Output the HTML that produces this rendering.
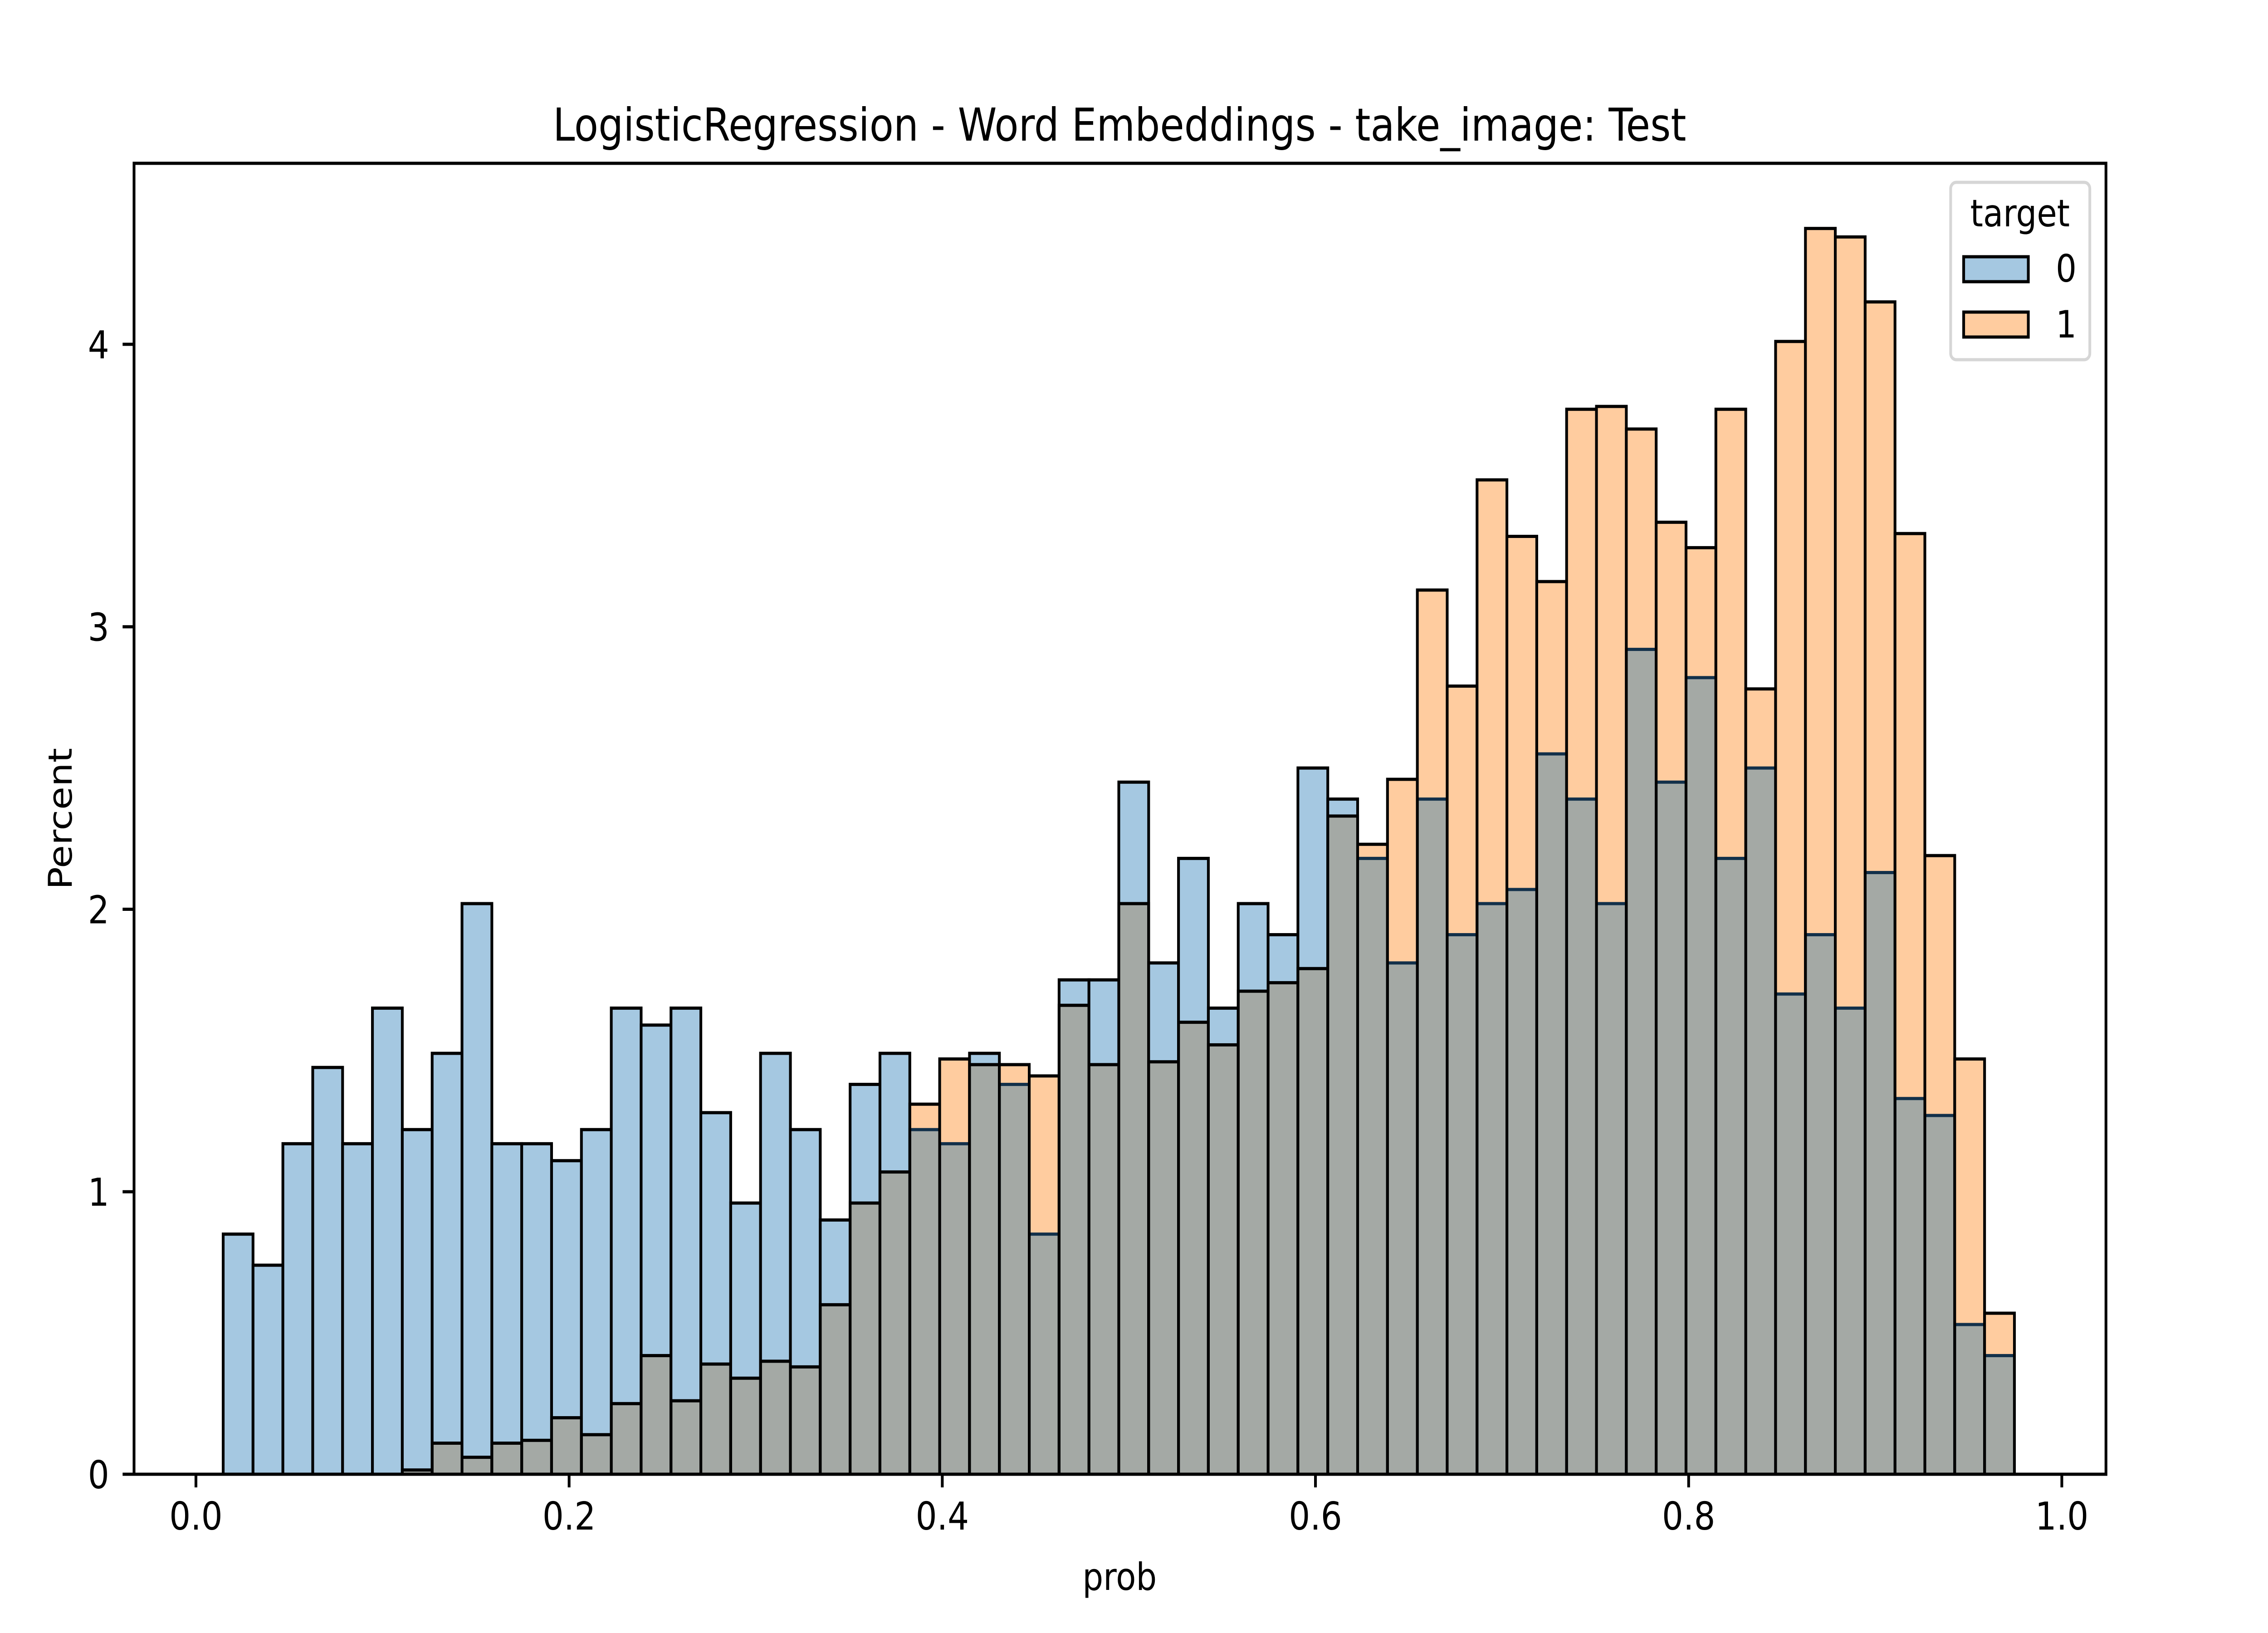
<!DOCTYPE html>
<html><head><meta charset="utf-8"><style>html,body{margin:0;padding:0;background:#fff;width:100%;height:100%;overflow:hidden}svg{display:block;width:100%;height:100%}</style></head>
<body>
<svg id="chart" xmlns="http://www.w3.org/2000/svg" viewBox="0 0 5753 3600" preserveAspectRatio="none" font-family="'DejaVu Sans','Liberation Sans',sans-serif">
<rect width="5753" height="3600" fill="#fff"/>
<g id="bars"></g>
<g id="axes"></g>
<text x="2840" y="310" font-size="100" text-anchor="middle">LogisticRegression - Word Embeddings - take_image: Test</text>
<text x="2840" y="3505" font-size="83" text-anchor="middle">prob</text>
<text transform="translate(182,1805) rotate(-90)" font-size="83" text-anchor="middle">Percent</text>
<g>
<rect x="4948" y="402" width="353" height="391" rx="14" fill="#fff" fill-opacity="0.8" stroke="#d6d6d6" stroke-width="7"/>
<text x="5124" y="499" font-size="83" text-anchor="middle">target</text>
<rect x="4981" y="566" width="164" height="55" fill="#a5c8e1" stroke="#000" stroke-width="7"/>
<text x="5241" y="621" font-size="83" text-anchor="middle">0</text>
<rect x="4981" y="688" width="164" height="55" fill="#ffcc9f" stroke="#000" stroke-width="7"/>
<text x="5241" y="744" font-size="83" text-anchor="middle">1</text>
</g>
</svg>
<script>
const binStart = 0.0146;
const binWidth = 0.016;
const target0 = [0.85,0.74,1.17,1.44,1.17,1.65,1.22,1.49,2.02,1.17,1.17,1.11,1.22,1.65,1.59,1.65,1.28,0.96,1.49,1.22,0.90,1.38,1.49,1.22,1.17,1.49,1.38,0.85,1.75,1.75,2.45,1.81,2.18,1.65,2.02,1.91,2.50,2.39,2.18,1.81,2.39,1.91,2.02,2.07,2.55,2.39,2.02,2.92,2.45,2.82,2.18,2.50,1.70,1.91,1.65,2.13,1.33,1.27,0.53,0.42];
const target1 = [0,0,0,0,0,0,0.015,0.11,0.06,0.11,0.12,0.20,0.14,0.25,0.42,0.26,0.39,0.34,0.40,0.38,0.60,0.96,1.07,1.31,1.47,1.45,1.45,1.41,1.66,1.45,2.02,1.46,1.60,1.52,1.71,1.74,1.79,2.33,2.23,2.46,3.13,2.79,3.52,3.32,3.16,3.77,3.78,3.70,3.37,3.28,3.77,2.78,4.01,4.41,4.38,4.15,3.33,2.19,1.47,0.57];
const xTicks = [0,0.2,0.4,0.6,0.8,1.0];
const xTickLabels = ["0.0","0.2","0.4","0.6","0.8","1.0"];
const yTicks = [0,1,2,3,4];
const yTickLabels = ["0","1","2","3","4"];

const NS="http://www.w3.org/2000/svg";
const X0=497, XS=4733, Y0=3250, YS=622.75;
const L=340, R=5342, T=360, B=3250;
function xs(v){return X0+XS*v;}
function ys(v){return Y0-YS*v;}
function mk(tag,attrs,parent){const e=document.createElementNS(NS,tag);for(const k in attrs)e.setAttribute(k,attrs[k]);parent.appendChild(e);return e;}
const bars=document.getElementById('bars');
const axes=document.getElementById('axes');
for(let i=0;i<target0.length;i++){
  const a=binStart+i*binWidth, b=a+binWidth;
  const x=xs(a), w=xs(b)-xs(a);
  const v0=target0[i], v1=target1[i];
  const hi=Math.max(v0,v1), lo=Math.min(v0,v1);
  if(hi>0){
    const r=mk('rect',{x:x,y:ys(hi),width:w,height:ys(0)-ys(hi),fill:v0>=v1?'#a5c8e1':'#ffcc9f'},bars);
    
    
  }
  if(lo>0){
    const g=mk('rect',{x:x,y:ys(lo),width:w,height:ys(0)-ys(lo),fill:'#a4a9a5'},bars);
    
    
  }
  if(v0>0){
    const o=mk('rect',{x:x,y:ys(v0),width:w,height:ys(0)-ys(v0),fill:'none',stroke:v1>v0?'#12304a':'#000','stroke-width':7},bars);
    
    
  }
  if(v1>0){
    const o=mk('rect',{x:x,y:ys(v1),width:w,height:ys(0)-ys(v1),fill:'none',stroke:'#000','stroke-width':7},bars);
    
    
  }
}
const frame=mk('rect',{x:L,y:T,width:R-L,height:B-T,fill:'none',stroke:'#000','stroke-width':7},axes);


xTicks.forEach((v,i)=>{
  const t=mk('line',{x1:xs(v),x2:xs(v),y1:B,y2:B+29,stroke:'#000','stroke-width':7},axes);
  
  
  const l=mk('text',{x:xs(v),y:B+122,'font-size':85,'text-anchor':'middle'},axes);
  l.textContent=xTickLabels[i];
  
  
});
yTicks.forEach((v,i)=>{
  const t=mk('line',{x1:L-29,x2:L,y1:ys(v),y2:ys(v),stroke:'#000','stroke-width':7},axes);
  
  
  const l=mk('text',{x:277,y:ys(v)+31,'font-size':85,'text-anchor':'end'},axes);
  l.textContent=yTickLabels[i];
  
  
});
</script>
</body></html>
